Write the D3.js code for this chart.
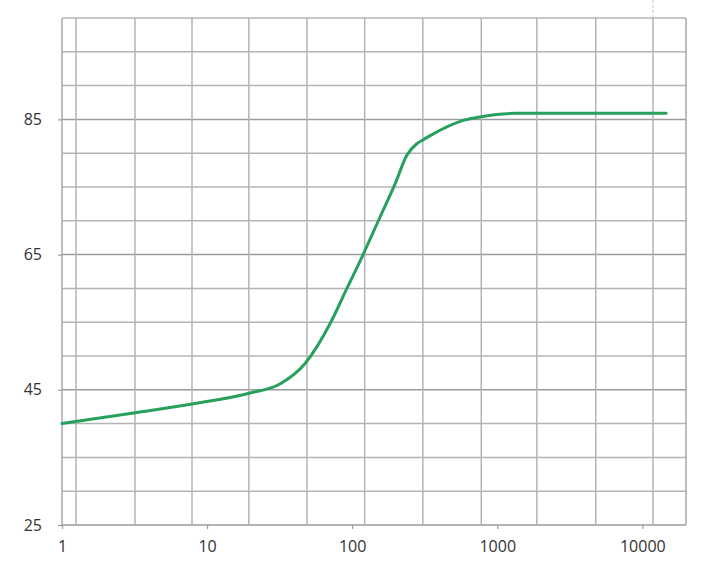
<!DOCTYPE html>
<html><head><meta charset="utf-8">
<script src="https://cdn.jsdelivr.net/npm/d3@7"></script>
<style>body{margin:0;background:#fff}svg{display:block}</style>
</head><body><div id="chart"></div>
<script>
const xValues = [1, 3.2, 7.9, 19.5, 32, 47.4, 70.5, 92, 116.6, 156, 198, 238, 279, 309, 345, 583, 776, 1352, 14600];
const yValues = [40, 41.6, 42.9, 44.5, 45.9, 48.9, 54.8, 60, 64.6, 70.6, 75.5, 79.7, 81.4, 82.0, 82.6, 84.85, 85.4, 85.9, 85.9];
const xTickValues = [1, 10, 100, 1000, 10000];
const xGridValues = [1.249, 3.186, 7.87, 19.4, 48.8, 122, 307, 776, 1874, 4773, 11840];
const yTickValues = [25, 45, 65, 85];
const yGridValues = [25, 30, 35, 40, 45, 50, 55, 60, 65, 70, 75, 80, 85, 90, 95, 100];
const xDomain = [1, 20000];
const yDomain = [25, 100];

const W = 713, H = 568;
const m = {left: 62, top: 18, right: 27, bottom: 43};
const svg = d3.select("#chart").append("svg").attr("width", W).attr("height", H);
const x = d3.scaleLog().domain(xDomain).range([m.left, W - m.right]);
const y = d3.scaleLinear().domain(yDomain).range([H - m.bottom, m.top]);

const grid = svg.append("g");
grid.selectAll("line.h").data(yGridValues).join("line")
  .attr("x1", m.left).attr("x2", W - m.right)
  .attr("y1", d => y(d)).attr("y2", d => y(d))
  .attr("stroke", d => yTickValues.includes(d) ? "#9a9a9a" : "#b4b4b4")
  .attr("stroke-width", 1.5);
grid.selectAll("line.v").data(xGridValues).join("line")
  .attr("y1", m.top).attr("y2", H - m.bottom)
  .attr("x1", d => x(d)).attr("x2", d => x(d))
  .attr("stroke", "#b4b4b4").attr("stroke-width", 1.5);
grid.selectAll("line.b").data(xDomain).join("line")
  .attr("y1", m.top).attr("y2", H - m.bottom)
  .attr("x1", d => x(d)).attr("x2", d => x(d))
  .attr("stroke", "#a8a8a8").attr("stroke-width", 1.5);
svg.append("line").attr("x1", x(xGridValues[10])).attr("x2", x(xGridValues[10]))
  .attr("y1", 0).attr("y2", m.top).attr("stroke", "#c8c8c8").attr("stroke-width", 1)
  .attr("stroke-dasharray", "3,2");

const yAxis = svg.append("g").attr("transform", `translate(${m.left},0)`)
  .call(d3.axisLeft(y).tickValues(yTickValues).tickSize(4).tickPadding(16).tickFormat(d3.format("d")));
const xAxis = svg.append("g").attr("transform", `translate(0,${H - m.bottom})`)
  .call(d3.axisBottom(x).tickValues(xTickValues).tickSize(4).tickPadding(12).tickFormat(d3.format("d")));
[yAxis, xAxis].forEach(a => {
  a.select(".domain").remove();
  a.selectAll(".tick line").attr("stroke", "#999").attr("stroke-width", 1.2);
  a.selectAll("text").attr("font-family", "'Open Sans', sans-serif").attr("font-size", 16).attr("fill", "#333");
});

const data = xValues.map((v, i) => [v, yValues[i]]);
svg.append("path").datum(data)
  .attr("fill", "none").attr("stroke", "#27a05c").attr("stroke-width", 3)
  .attr("stroke-linejoin", "round").attr("stroke-linecap", "round")
  .attr("d", d3.line().x(d => x(d[0])).y(d => y(d[1])).curve(d3.curveMonotoneX));
</script></body></html>
